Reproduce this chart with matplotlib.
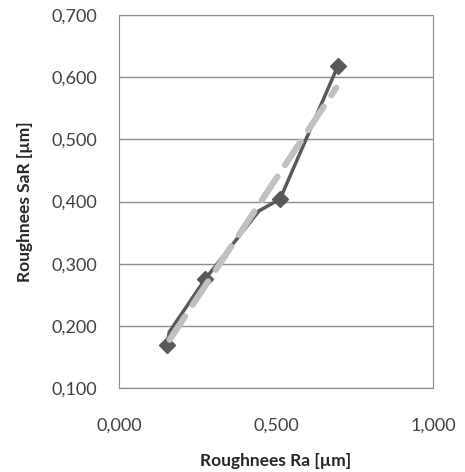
import numpy as np
import matplotlib
matplotlib.use('Agg')
import matplotlib.pyplot as plt
from matplotlib.ticker import FuncFormatter

# Ra vs SaR measurements
ra = [0.153, 0.160, 0.274, 0.446, 0.513, 0.697]
sar = [0.169, 0.190, 0.275, 0.385, 0.404, 0.618]
marked = [0, 2, 4, 5]

xticks = [0.0, 0.5, 1.0]
yticks = [0.1, 0.2, 0.3, 0.4, 0.5, 0.6, 0.7]

plt.rcParams['font.family'] = ['Lato', 'DejaVu Sans']

fig = plt.figure(figsize=(4.65, 4.72), dpi=100)
ax = fig.add_axes([0.256, 0.178, 0.675, 0.790])

ax.plot(ra, sar, color='#595959', lw=2.5, marker='D', ms=8,
        markevery=marked, zorder=3)

# linear trendline
k, b = np.polyfit(ra, sar, 1)
tx = np.array([min(ra) + 0.008, max(ra) - 0.005])
ax.plot(tx, k * tx + b, color='#c0c0c0', lw=4.5, ls=(0, (4.5, 2.2)),
        dash_capstyle='round', zorder=4)

ax.set_xlim(0, 1)
ax.set_ylim(0.1, 0.7)
ax.set_xticks(xticks)
ax.set_yticks(yticks)
fmt = FuncFormatter(lambda v, p: ('%.3f' % v).replace('.', ','))
ax.xaxis.set_major_formatter(fmt)
ax.yaxis.set_major_formatter(fmt)
ax.tick_params(length=0, labelsize=13, labelcolor='#404040')
ax.tick_params(axis='x', pad=21)
ax.tick_params(axis='y', pad=16)
ax.grid(axis='y', color='#8c8c8c', lw=1)
ax.set_axisbelow(True)
for s in ax.spines.values():
    s.set_color('#8c8c8c')

ax.set_xlabel('Roughnees Ra [µm]', fontsize=12.5, fontweight='bold',
              color='#262626')
ax.set_ylabel('Roughnees SaR [µm]', fontsize=12.5, fontweight='bold',
              color='#262626')
ax.xaxis.set_label_coords(0.5, -0.175)
ax.yaxis.set_label_coords(-0.275, 0.5)

fig.savefig('out.png', dpi=100)
